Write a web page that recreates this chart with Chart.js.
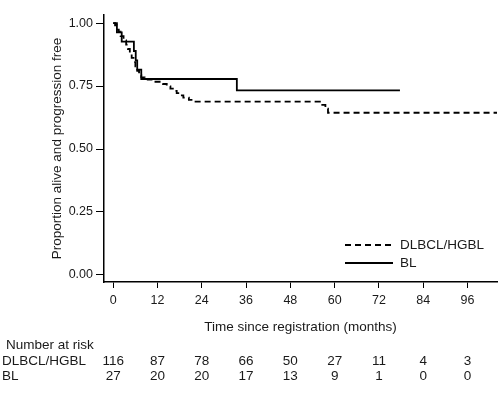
<!DOCTYPE html>
<html>
<head>
<meta charset="utf-8">
<script src="https://cdn.jsdelivr.net/npm/chart.js@4.4.1/dist/chart.umd.min.js"></script>
<style>
  html, body { margin: 0; padding: 0; background: #fff; }
  #wrap { width: 500px; height: 397px; }
</style>
</head>
<body>
<div id="wrap"><canvas id="myChart" width="500" height="397"></canvas></div>
<script>
// Kaplan-Meier steps (months, proportion)
var dlbclTimes = [0, 0.5, 1.0, 1.5, 2.0, 2.8, 3.5, 4.0, 4.5, 5.0, 5.5, 6.0, 6.5, 7.0, 7.6, 8.5, 10.5, 13.5, 14.5, 15.5, 16.5, 17.2, 18.0, 19.0, 20.5, 21.5, 56.0, 57.5, 58.2, 104];
var dlbclSurv  = [1.0, 0.991, 0.974, 0.966, 0.948, 0.931, 0.914, 0.897, 0.879, 0.862, 0.845, 0.828, 0.81, 0.793, 0.784, 0.776, 0.767, 0.758, 0.749, 0.74, 0.731, 0.722, 0.713, 0.704, 0.695, 0.688, 0.675, 0.66, 0.644, 0.644];
var blTimes = [0, 1.0, 2.3, 5.6, 6.1, 6.5, 7.6, 33.5, 77.7];
var blSurv  = [1.0, 0.963, 0.926, 0.889, 0.852, 0.815, 0.778, 0.733, 0.733];

var xTicks = [0, 12, 24, 36, 48, 60, 72, 84, 96];
var yTicks = [0, 0.25, 0.5, 0.75, 1];

var riskGroups = ["DLBCL/HGBL", "BL"];
var riskDlbcl = [116, 87, 78, 66, 50, 27, 11, 4, 3];
var riskBl = [27, 20, 20, 17, 13, 9, 1, 0, 0];

function pts(t, s) {
    var out = [];
    for (var i = 0; i < t.length; i++) out.push({x: t[i], y: s[i]});
    return out;
}

var FONT = "'Liberation Sans', Arial, sans-serif";
var TXT = '#1a1a1a';

var extras = {
    id: 'extras',
    afterDraw: function(chart) {
        var ctx = chart.ctx;
        var xs = chart.scales.x;
        ctx.save();
        // legend
        ctx.strokeStyle = '#000';
        ctx.lineWidth = 2;
        ctx.setLineDash([6, 4]);
        ctx.beginPath(); ctx.moveTo(345, 245); ctx.lineTo(393, 245); ctx.stroke();
        ctx.setLineDash([]);
        ctx.beginPath(); ctx.moveTo(345, 263); ctx.lineTo(393, 263); ctx.stroke();
        ctx.fillStyle = TXT;
        ctx.font = '13.5px ' + FONT;
        ctx.textBaseline = 'middle';
        ctx.textAlign = 'left';
        ctx.fillText('DLBCL/HGBL', 400, 245);
        ctx.fillText('BL', 400, 263);

        // number at risk table
        ctx.fillText('Number at risk', 6, 345);
        ctx.fillText(riskGroups[0], 2, 361);
        ctx.fillText(riskGroups[1], 2, 376);
        ctx.textAlign = 'center';
        for (var i = 0; i < xTicks.length; i++) {
            var px = xs.getPixelForValue(xTicks[i]);
            ctx.fillText(String(riskDlbcl[i]), px, 361);
            ctx.fillText(String(riskBl[i]), px, 376);
        }
        ctx.restore();
    }
};

var myChart = new Chart(document.getElementById('myChart'), {
    type: 'line',
    data: {
        datasets: [{
            label: 'DLBCL/HGBL',
            data: pts(dlbclTimes, dlbclSurv),
            stepped: true,
            borderColor: '#000',
            borderWidth: 1.8,
            borderDash: [6, 4],
            pointRadius: 0,
            fill: false
        }, {
            label: 'BL',
            data: pts(blTimes, blSurv),
            stepped: true,
            borderColor: '#000',
            borderWidth: 1.8,
            pointRadius: 0,
            fill: false
        }]
    },
    options: {
        responsive: false,
        animation: false,
        layout: { padding: { top: 15, right: 3, left: 0, bottom: 0 } },
        plugins: { legend: { display: false }, tooltip: { enabled: false } },
        scales: {
            x: {
                type: 'linear',
                min: -2.5,
                max: 104,
                afterFit: function(s) { s.height = 115; },
                afterBuildTicks: function(s) { s.ticks = xTicks.map(function(v) { return {value: v}; }); },
                grid: { drawOnChartArea: false, drawTicks: true, tickLength: 6, color: '#000', lineWidth: 1 },
                border: { color: '#000', width: 1.5 },
                ticks: { color: TXT, font: { family: FONT, size: 12.5 }, padding: 5, maxRotation: 0 },
                title: {
                    display: true,
                    text: 'Time since registration (months)',
                    color: TXT,
                    font: { family: FONT, size: 13.5 },
                    padding: { top: 4, bottom: 62 }
                }
            },
            y: {
                min: -0.028,
                max: 1.032,
                afterFit: function(s) { s.width = 104; },
                afterBuildTicks: function(s) { s.ticks = yTicks.map(function(v) { return {value: v}; }); },
                grid: { drawOnChartArea: false, drawTicks: true, tickLength: 8, color: '#000', lineWidth: 1 },
                border: { color: '#000', width: 1.5 },
                ticks: {
                    color: TXT,
                    font: { family: FONT, size: 12.5 },
                    padding: 3,
                    callback: function(v) { return Number(v).toFixed(2); }
                },
                title: {
                    display: true,
                    text: 'Proportion alive and progression free',
                    color: TXT,
                    font: { family: FONT, size: 13.5 },
                    padding: { top: 49, bottom: 4 }
                }
            }
        }
    },
    plugins: [extras]
});
</script>
</body>
</html>
